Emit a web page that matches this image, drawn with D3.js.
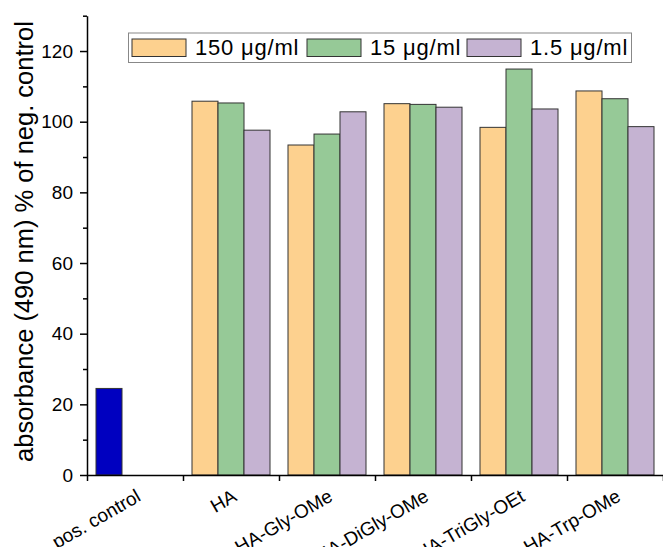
<!DOCTYPE html>
<html>
<head>
<meta charset="utf-8">
<script src="https://cdn.jsdelivr.net/npm/d3@7"></script>
<style>
  body { margin: 0; background: #fff; }
  svg text { font-family: Arial, "Liberation Sans", sans-serif; fill: #000; }
</style>
</head>
<body>
<div id="chart"></div>
<script>
// data
var categories = ["pos. control", "HA", "HA-Gly-OMe", "HA-DiGly-OMe", "HA-TriGly-OEt", "HA-Trp-OMe"];
var seriesNames = ["150 \u03bcg/ml", "15 \u03bcg/ml", "1.5 \u03bcg/ml"];
var posControl = [24.5];
var conc150 = [null, 105.8, 93.4, 105.1, 98.4, 108.7];
var conc15 = [null, 105.3, 96.5, 104.9, 114.9, 106.5];
var conc1_5 = [null, 97.6, 102.8, 104.1, 103.6, 98.6];
var yTicks = [0, 20, 40, 60, 80, 100, 120];

var colors = ["#FDD18F", "#96C997", "#C5B3D2"];
var posColor = "#0000C0";

var W = 663, H = 547;
var x0 = 87, x1 = 663, yTop = 15.7, yBot = 475;

var svg = d3.select("#chart").append("svg")
    .attr("width", W).attr("height", H);

var x = d3.scaleBand().domain(categories).range([x0, x1]).padding(0);
var xs = d3.scaleBand().domain(d3.range(3)).range([9, x.bandwidth() - 9]).padding(0);
var y = d3.scaleLinear().domain([0, 130]).range([yBot, yTop]);

var series = [conc150, conc15, conc1_5];
var bars = [];
series.forEach(function (vals, s) {
    vals.forEach(function (v, i) {
        if (v != null) bars.push({ cat: categories[i], s: s, v: v, color: colors[s] });
    });
});
bars.push({ cat: categories[0], s: 0, v: posControl[0], color: posColor });

svg.append("g").selectAll("rect").data(bars).join("rect")
    .attr("x", function (d) { return x(d.cat) + xs(d.s); })
    .attr("y", function (d) { return y(d.v); })
    .attr("width", xs.bandwidth())
    .attr("height", function (d) { return y(0) - y(d.v); })
    .attr("fill", function (d) { return d.color; })
    .attr("stroke", "#333")
    .attr("stroke-width", 1);

// y axis, major + minor ticks
var yAxis = svg.append("g").attr("transform", "translate(" + x0 + ",0)")
    .call(d3.axisLeft(y).tickValues(yTicks).tickSize(7).tickSizeOuter(0).tickPadding(7));
yAxis.selectAll("text").style("font-size", "19px");
svg.append("g").attr("transform", "translate(" + x0 + ",0)")
    .call(d3.axisLeft(y).tickValues(d3.range(10, 131, 20)).tickSize(4).tickFormat(""))
    .select(".domain").remove();

// x axis with ticks on the category boundaries
var xb = d3.scaleLinear().domain([0, categories.length]).range([x0, x1]);
svg.append("g").attr("transform", "translate(0," + yBot + ")")
    .call(d3.axisBottom(xb).tickValues(d3.range(0, categories.length + 1)).tickSize(6).tickSizeOuter(0).tickFormat(""));

svg.selectAll(".domain, .tick line").attr("stroke", "#000").attr("stroke-width", 1.5);

svg.append("g").selectAll("text").data(categories).join("text")
    .attr("transform", function (d) {
        return "translate(" + (x(d) + x.bandwidth() / 2 + 7) + ",500) rotate(-30)";
    })
    .attr("text-anchor", "end")
    .style("font-size", "19px")
    .text(function (d) { return d; });

svg.append("text")
    .attr("transform", "translate(33,241.5) rotate(-90)")
    .attr("text-anchor", "middle")
    .style("font-size", "25.5px")
    .text("absorbance (490 nm) % of neg. control");

// legend
var lg = svg.append("g");
lg.append("rect").attr("x", 128.5).attr("y", 33).attr("width", 503).attr("height", 29.5)
    .attr("fill", "#fff").attr("stroke", "#888").attr("stroke-width", 1);
var swX = [132, 307, 467];
var item = lg.selectAll("g.item").data(seriesNames).join("g").attr("class", "item")
    .attr("transform", function (d, i) { return "translate(" + swX[i] + ",39)"; });
item.append("rect").attr("width", 54).attr("height", 17.5)
    .attr("fill", function (d, i) { return colors[i]; })
    .attr("stroke", "#333").attr("stroke-width", 1);
item.append("text").attr("x", 63).attr("y", 16)
    .style("font-size", "22px")
    .style("letter-spacing", "0.8px")
    .text(function (d) { return d; });
</script>
</body>
</html>
